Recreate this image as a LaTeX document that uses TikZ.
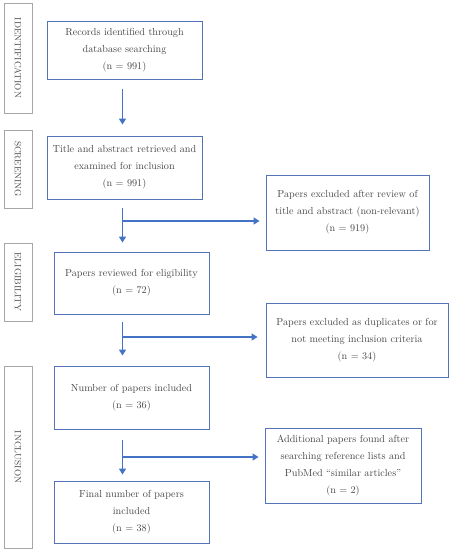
\documentclass[tikz,border=0pt]{standalone}
\usetikzlibrary{arrows.meta,positioning,calc}
\definecolor{flowblue}{HTML}{4472C4}
\definecolor{boxblue}{HTML}{5573B8}
\definecolor{sidegray}{HTML}{A6A6A6}
\definecolor{txtgray}{HTML}{474747}
\begin{document}
\begin{tikzpicture}[x=1pt,y=-1pt,
  mainbox/.style={draw=boxblue,line width=0.9pt,text=txtgray,align=center,
     font=\fontsize{10.2}{17}\selectfont,inner sep=2pt},
  sidebox/.style={draw=sidegray,line width=0.8pt,text=txtgray,
     minimum width=28pt,inner sep=0pt},
  sidelabel/.style={rotate=-90,font=\fontsize{9}{11}\selectfont,text=txtgray},
  arr/.style={draw=flowblue,line width=1.8pt,-{Triangle[length=6pt,width=7pt]}},
  trunk/.style={draw=flowblue,line width=1.8pt}]
\useasboundingbox (0,0) rectangle (451,550);
\fill[white] (0,0) rectangle (451,550);

% side boxes
\node[sidebox,minimum height=110pt] (sid) at (18,58) {};
\node[sidelabel] (lid) at (sid.center) {IDENTIFICATION};
\node[sidebox,minimum height=78pt] (ssc) at (18,169) {};
\node[sidelabel] (lsc) at (ssc.center) {SCREENING};
\node[sidebox,minimum height=78pt] (sel) at (18,282) {};
\node[sidelabel] (lel) at (sel.center) {ELIGIBILITY};
\node[sidebox,minimum height=182pt] (sin) at (18,457) {};
\node[sidelabel] (lin) at (sin.center) {INCLUSION};

% main boxes
\node[mainbox,minimum width=155pt,minimum height=58pt] (b1) at (124.5,50)
  {Records identified through\\database searching\\(n = 991)};
\node[mainbox,minimum width=155pt,minimum height=63pt] (b2) at (124.5,167.5)
  {Title and abstract retrieved and\\examined for inclusion\\(n = 991)};
\node[mainbox,minimum width=155pt,minimum height=62pt] (b3) at (131.5,283)
  {Papers reviewed for eligibility\\(n = 72)};
\node[mainbox,minimum width=155pt,minimum height=63pt] (b4) at (131.5,397.5)
  {Number of papers included\\(n = 36)};
\node[mainbox,minimum width=155pt,minimum height=62pt] (b5) at (131.5,512)
  {Final number of papers\\included\\(n = 38)};

% side result boxes
\node[mainbox,minimum width=163pt,minimum height=75pt] (e1) at (347.5,212.5)
  {Papers excluded after review of\\title and abstract (non-relevant)\\(n = 919)};
\node[mainbox,minimum width=182pt,minimum height=74pt] (e2) at (357,340)
  {Papers excluded as duplicates or for\\not meeting inclusion criteria\\(n = 34)};
\node[mainbox,minimum width=156pt,minimum height=75pt] (e3) at (343,465.5)
  {Additional papers found after\\searching reference lists and\\PubMed ``similar articles''\\(n = 2)};

% connectors
\coordinate (ax) at (122.5,0);
\coordinate (j1) at (122.5,221);
\coordinate (j2) at (122.5,337);
\coordinate (j3) at (122.5,457);

\draw[arr] ([yshift=-10pt]b1.south -| ax) -- ([yshift=11pt]b2.north -| ax);
\draw[arr] ([yshift=-9pt]b2.south -| ax) -- ([yshift=9pt]b3.north -| ax);
\draw[arr] ([yshift=-8pt]b3.south -| ax) -- ([yshift=10pt]b4.north -| ax);
\draw[arr] ([yshift=-11pt]b4.south -| ax) -- ([yshift=6pt]b5.north -| ax);

\draw[arr] (j1) -- ([xshift=-6pt]e1.west |- j1);
\draw[arr] (j2) -- ([xshift=-8pt]e2.west |- j2);
\draw[arr] (j3) -- ([xshift=-6pt]e3.west |- j3);
\end{tikzpicture}
\end{document}
